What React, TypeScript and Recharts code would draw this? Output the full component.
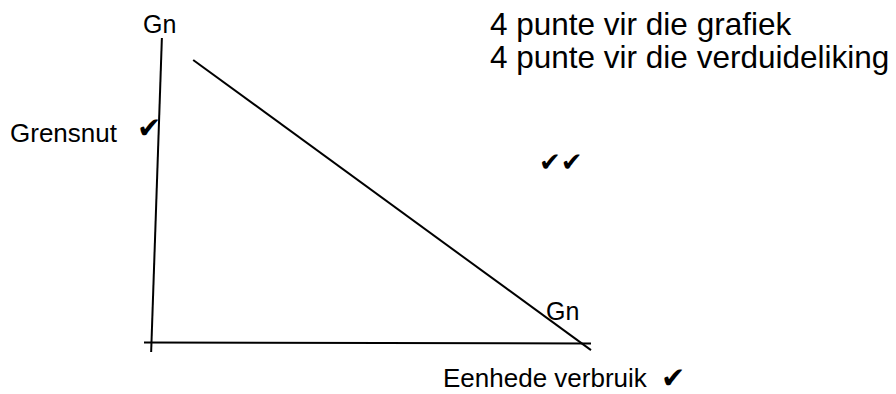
import React from "react";
import { LineChart, Line, XAxis, YAxis, Customized } from "recharts";

// Conceptual chart: marginal utility (Grensnut) vs units consumed (Eenhede verbruik)
const gnLineX = [1.1, 10];
const gnLineY = [9.3, 0.06];
const verticalAxisX = [0.4, 0.16];
const verticalAxisY = [10, 0];
const horizontalAxisX = [0, 10];
const horizontalAxisY = [0.3, 0.27];

const toPoints = (xs: number[], ys: number[]) => xs.map((x, i) => ({ x, y: ys[i] }));

const gnData = toPoints(gnLineX, gnLineY);
const vAxisData = toPoints(verticalAxisX, verticalAxisY);
const hAxisData = toPoints(horizontalAxisX, horizontalAxisY);

const FONT = "'Liberation Sans', Arial, Helvetica, sans-serif";
const CHECK_FONT = "'DejaVu Sans', sans-serif";
const CHECK = "\u2714";

const Annotations = () => (
  <g fill="#000">
    <text x={143} y={33} fontFamily={FONT} fontSize={25}>Gn</text>
    <text x={490} y={35} fontFamily={FONT} fontSize={31.5}>4 punte vir die grafiek</text>
    <text x={490} y={68} fontFamily={FONT} fontSize={31.5}>4 punte vir die verduideliking</text>
    <text x={10} y={142} fontFamily={FONT} fontSize={26}>Grensnut</text>
    <text x={137} y={138} fontFamily={CHECK_FONT} fontSize={29}>{CHECK}</text>
    <text x={539} y={171} fontFamily={CHECK_FONT} fontSize={26}>{CHECK + CHECK}</text>
    <text x={546} y={320} fontFamily={FONT} fontSize={25}>Gn</text>
    <text x={443} y={387} fontFamily={FONT} fontSize={26}>Eenhede verbruik</text>
    <text x={661} y={388} fontFamily={CHECK_FONT} fontSize={29}>{CHECK}</text>
  </g>
);

export default function App() {
  return (
    <div style={{ position: "absolute", left: 0, top: 0, width: 896, height: 394, background: "#fff" }}>
      <LineChart width={896} height={394} margin={{ top: 38, right: 305, bottom: 42, left: 144 }}>
        <XAxis type="number" dataKey="x" domain={[0, 10]} hide />
        <YAxis type="number" dataKey="y" domain={[0, 10]} hide />
        <Line data={vAxisData} dataKey="y" stroke="#000" strokeWidth={2} dot={false} isAnimationActive={false} />
        <Line data={hAxisData} dataKey="y" stroke="#000" strokeWidth={2} dot={false} isAnimationActive={false} />
        <Line data={gnData} dataKey="y" stroke="#000" strokeWidth={2} dot={false} isAnimationActive={false} />
        <Customized component={Annotations} />
      </LineChart>
    </div>
  );
}
